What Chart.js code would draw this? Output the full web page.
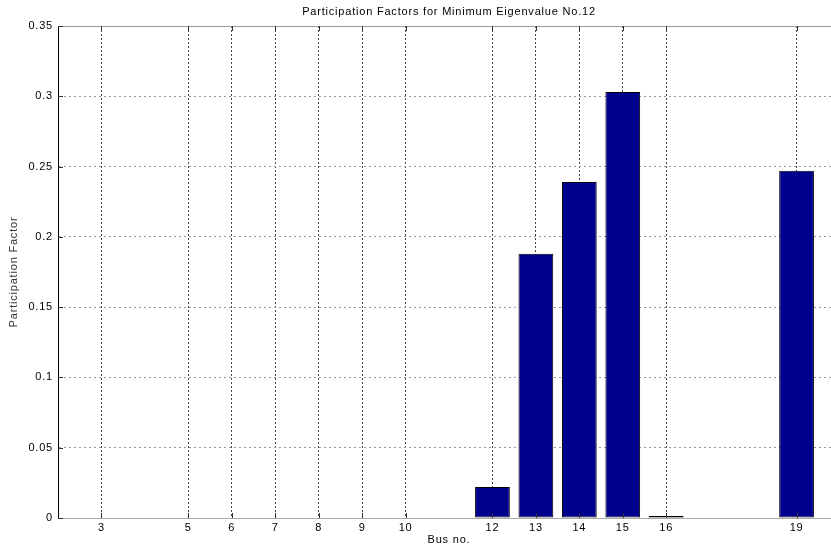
<!DOCTYPE html>
<html>
<head>
<meta charset="utf-8">
<script src="https://cdn.jsdelivr.net/npm/chart.js@4"></script>
<style>
    html, body { margin: 0; padding: 0; overflow: hidden; background: #fff; }
    #wrap { position: absolute; left: 0; top: 0; width: 841px; height: 547px; }
</style>
</head>
<body>
<div id="wrap"><canvas id="myChart"></canvas></div>
<script>
// bus numbers and participation factors
const buses = [3, 5, 6, 7, 8, 9, 10, 12, 13, 14, 15, 16, 19];
const factors = [0, 0, 0, 0, 0, 0, 0, 0.022, 0.188, 0.239, 0.303, 0.0015, 0.247];
const yTicks = [0, 0.05, 0.1, 0.15, 0.2, 0.25, 0.3, 0.35];
const xRange = [2, 20];

const font = { family: "'Liberation Sans', Arial, sans-serif", size: 11, weight: "normal" };

// the old matlab font is spaced a bit wider
const spacing = {
    id: "spacing",
    beforeInit(chart) {
        chart.ctx.letterSpacing = "0.8px";
    },
    beforeDraw(chart) {
        chart.ctx.letterSpacing = "0.8px";
    },
};

// matlab style inward ticks + top box line
const boxTicks = {
    id: "boxTicks",
    afterDraw(chart) {
        let ctx = chart.ctx;
        let a = chart.chartArea;
        let xs = chart.scales.x;
        let ys = chart.scales.y;
        ctx.save();
        ctx.lineWidth = 1;
        ctx.strokeStyle = "#999";
        ctx.beginPath();
        ctx.moveTo(a.left, a.top + 0.5);
        ctx.lineTo(a.right, a.top + 0.5);
        ctx.stroke();
        ctx.strokeStyle = "#333";
        ctx.beginPath();
        xs.ticks.forEach((t) => {
            let px = Math.round(xs.getPixelForValue(t.value)) + 0.5;
            ctx.moveTo(px, a.bottom);
            ctx.lineTo(px, a.bottom - 5);
            ctx.moveTo(px, a.top);
            ctx.lineTo(px, a.top + 5);
        });
        ys.ticks.forEach((t) => {
            let py = Math.round(ys.getPixelForValue(t.value)) + 0.5;
            ctx.moveTo(a.left, py);
            ctx.lineTo(a.left + 5, py);
        });
        ctx.stroke();
        ctx.restore();
    },
};

let ctx = document.getElementById("myChart").getContext("2d");

let myChart = new Chart(ctx, {
    type: "bar",
    data: {
        datasets: [
            {
                label: "Participation Factor",
                data: buses.map((b, i) => ({ x: b, y: factors[i] })),
                backgroundColor: "#00008f",
                borderColor: "#000",
                borderWidth: 1,
                borderSkipped: false,
                barPercentage: 1,
                categoryPercentage: 0.8,
            },
        ],
    },
    options: {
        responsive: true,
        maintainAspectRatio: false,
        animation: false,
        layout: { padding: { left: 0, right: 1, top: 0, bottom: 0 } },
        plugins: {
            legend: { display: false },
            tooltip: { enabled: false },
            title: {
                display: true,
                fullSize: false,
                text: "Participation Factors for Minimum Eigenvalue No.12",
                color: "#000",
                font: font,
                padding: { top: 5, bottom: 7.8 },
            },
        },
        scales: {
            x: {
                type: "linear",
                min: xRange[0],
                max: xRange[1],
                offset: false,
                afterBuildTicks: (s) => {
                    s.ticks = buses.map((b) => ({ value: b }));
                },
                afterFit: (s) => {
                    s.height = 29;
                },
                grid: {
                    offset: false,
                    drawTicks: false,
                    color: "#444",
                },
                border: { color: "#aaa", dash: [2, 2] },
                ticks: {
                    color: "#000",
                    font: font,
                    padding: 3,
                    autoSkip: false,
                    maxRotation: 0,
                    callback: (v) => v,
                },
                title: {
                    display: true,
                    text: "Bus no.",
                    color: "#000",
                    font: font,
                    padding: { top: 0, bottom: 0 },
                },
            },
            y: {
                min: 0,
                max: 0.35,
                afterBuildTicks: (s) => {
                    s.ticks = yTicks.map((v) => ({ value: v }));
                },
                afterFit: (s) => {
                    s.width = 58;
                },
                grid: {
                    drawTicks: false,
                    color: (c) => (c.tick && (c.tick.value === 0 || c.tick.value === 0.35) ? "rgba(0,0,0,0)" : "#999"),
                },
                border: { color: "#000", dash: [2, 3] },
                ticks: {
                    color: "#000",
                    font: font,
                    padding: 5,
                    callback: (v) => String(+v.toFixed(2)),
                },
                title: {
                    display: true,
                    text: "Participation Factor",
                    color: "#333",
                    font: font,
                    padding: { top: 7, bottom: 0 },
                },
            },
        },
    },
    plugins: [spacing, boxTicks],
});
</script>
</body>
</html>
